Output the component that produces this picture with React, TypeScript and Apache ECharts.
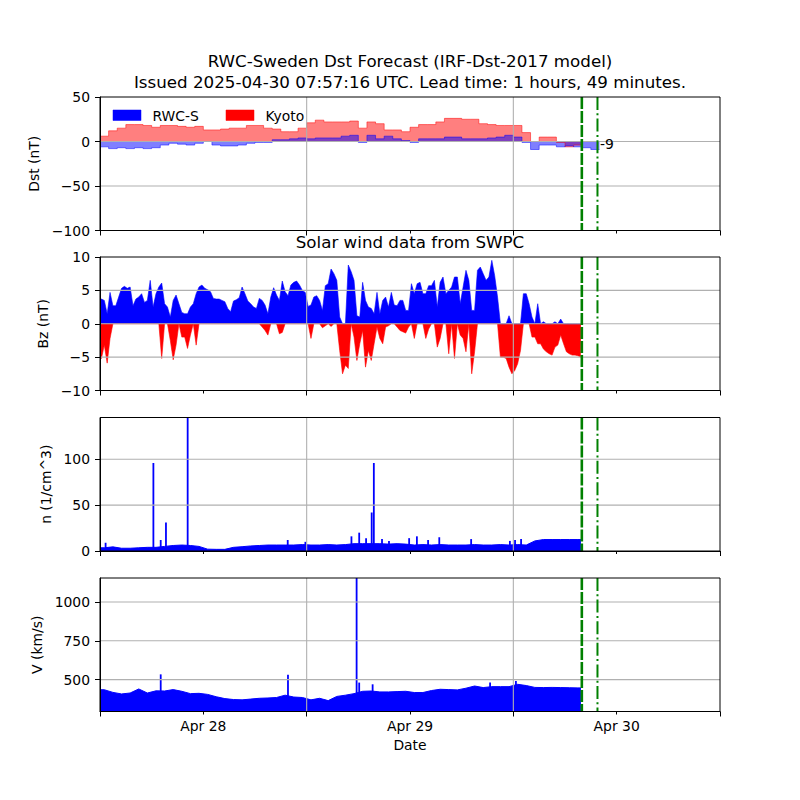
import React, { useEffect, useRef } from 'react';
import * as echarts from 'echarts';

const FONT = '"DejaVu Sans", sans-serif';
const titleLines = [
  'RWC-Sweden Dst Forecast (IRF-Dst-2017 model)',
  'Issued 2025-04-30 07:57:16 UTC. Lead time: 1 hours, 49 minutes.',
];
const subTitle = 'Solar wind data from SWPC';

// time in hours since 2025-04-28 00:00 UTC
const axisMaxHour = 72;
const dayBoundaryHours = [24, 48];
const dayLabelHours = [12, 36, 60];
const dayLabels = ['Apr 28', 'Apr 29', 'Apr 30'];
const issueHour = 48 + 7 + 57 / 60 + 16 / 3600;
const forecastHour = issueHour + 1 + 49 / 60;
const swEndHour = 55.85;

// Dst, hourly (nT)
const kyotoDst = [
  6, 12, 15, 19, 19, 18, 16, 18, 18, 17, 16, 17, 13, 13, 14, 15, 15, 18, 18, 15,
  14, 11, 11, 15, 21, 24, 22, 22, 22, 23, 15, 22, 20, 13, 13, 11, 16, 19, 19, 22,
  26, 26, 25, 25, 20, 19, 18, 18, 18, 10, 0, 5, 5, -1, -6, -4,
];
const rwcDst = [
  -6, -8, -7, -8, -7, -8, -7, -4, -2, -3, -4, -2, 0, -4, -5, -5, -4, -2, -1, -1,
  2, 2, 3, 4, 3, 4, 4, 4, 6, 7, -1, 7, 3, 6, 3, 1, -1, 3, 3, 3,
  5, 5, 3, 3, 3, 4, 5, 7, 5, -1, -9, -4, -4, -6, -5, -6, -7, -9,
];

// Bz, 20-minute bins: max positive / min negative (nT)
const bzPos = [
  3.7, 3.5, 1.5, 4.7, 2.7, 2.7, 4, 5.3, 5.6, 5.3,
  5.5, 2.7, 3.7, 4, 4.5, 3.2, 3.5, 6.5, 2.5, 4.5,
  5.5, 6.1, 3, 2.5, 1, 3.5, 4.3, 3, 1.7, 1.5,
  1.5, 2.5, 3, 4.5, 5.5, 5.8, 5.3, 5.1, 4.8, 3.8,
  3.7, 3.7, 3.5, 3.3, 2.3, 1.8, 3.4, 3.6, 3.9, 5.5,
  4.5, 3.4, 3, 2.5, 2.3, 3.8, 3.5, 2.8, 1.5, 4,
  5.4, 4.3, 3.5, 6.4, 4.8, 4.2, 5.8, 6.2, 6.4, 5.8,
  5, 4.7, 2.6, 2.8, 4, 4.2, 3.5, 2, 5.7, 6,
  8.2, 7.5, 6.5, 1, 0, 0, 8.8, 7.8, 6.5, 1.2,
  1, 6.2, 3.5, 2.5, 2.3, 1.5, 4.7, 1.5, 3.5, 4,
  2.5, 4.7, 2.8, 2.7, 3.5, 3.5, 2, 2, 6, 4.5,
  6, 6.2, 4.5, 4.5, 5.7, 5.7, 6.5, 2.5, 6.2, 7,
  4.5, 5, 5.5, 7, 7, 3, 5.5, 8, 6.5, 2,
  2, 8, 8.5, 7.5, 6.5, 7, 9.5, 7.2, 4, 0,
  0, 0, 1.2, 0, 0, 0, 0, 4.5, 4.5, 3,
  1, 0, 3, 0, 0.3, 0, 0, 0, 0.3, 0,
  0.7, 0, 0, 0, 0, 0, 0, 0,
];
const bzNeg = [
  -5.2, -3.2, -5.9, -2.2, 0, 0, 0, 0, 0, 0,
  0, 0, 0, 0, 0, 0, 0, 0, 0, 0,
  0, -5.2, 0, 0, -2.5, -5.4, -3.2, 0, -2, -2,
  -3.7, -1.7, 0, -3.2, 0, 0, 0, 0, 0, 0,
  0, 0, 0, 0, 0, 0, 0, 0, 0, 0,
  0, 0, 0, 0, 0, 0, -0.5, -1, -1.7, 0,
  0, 0, -1.5, -1.3, 0, 0, 0, 0, 0, 0,
  0, 0, 0, -2.2, 0, 0, 0, -0.6, -0.3, 0,
  -0.4, 0, 0, -4, -7.5, -6.2, -6.7, 0, -2, -5.5,
  -3, -1, -6.5, -4, -5.5, -3, -0.5, -2.2, -3, -0.5,
  -0.3, 0, 0, -0.5, -1, -1.2, -1.4, -0.5, 0, -2.2,
  0, 0, 0, -2.2, -0.8, 0, 0, -3.5, -2.2, 0,
  0, -4.5, 0, -5.2, 0, -1.7, -2.2, -4.2, 0, -7.5,
  -4.2, 0, 0, 0, 0, 0, 0, 0, 0, -5,
  -5, -5.2, -6.5, -7.5, -7, -6, -4, 0, 0, 0,
  -2, -2, -3, -3, -3.8, -4.2, -4.5, -4.7, -3.5, -3.2,
  -1.7, -3, -4.2, -4.5, -4.7, -4.7, -4.8, -5,
];

// density (1/cm^3): hourly background and short spikes [hour, value]
const nHourly = [
  3.5, 4.5, 3, 3, 3.5, 4, 4, 5, 6, 6.5, 6, 5, 2, 1.8, 1.8, 4, 4.7, 5.5, 6, 6.5,
  6.5, 6.5, 6.5, 7, 6.5, 6.5, 7, 6.5, 7, 8, 8, 8, 8, 7.5, 8, 7.5, 6.5, 7, 6.5, 7,
  6.5, 6.5, 6.5, 7, 6.5, 6.5, 7, 6.5, 7, 6.5, 11, 12.5, 12.5, 12.5, 12.5, 12.5,
];
const nSpikes = [
  [0.65, 9], [6.2, 96], [7.05, 12], [7.66, 31], [10.18, 145.6], [21.8, 12], [23.85, 10],
  [29.2, 16], [30.1, 20], [30.9, 14], [31.55, 42], [31.8, 96], [32.75, 13], [33.56, 11],
  [35.9, 14], [36.8, 16], [38.1, 12], [39.4, 15], [43.1, 13], [47.6, 11], [48.2, 12], [48.9, 13],
];

// speed (km/s): hourly background and short spikes [hour, value]
const vHourly = [
  435, 418, 408, 414, 440, 414, 428, 427, 436, 425, 410, 412, 405, 390, 378, 372, 370, 375, 380, 382,
  385, 400, 388, 385, 370, 380, 365, 392, 400, 410, 425, 427, 421, 421, 423, 425, 417, 417, 430, 438,
  436, 434, 445, 459, 449, 455, 455, 455, 470, 462, 450, 449, 450, 449, 448, 447,
];
const vSpikes = [
  [7.05, 534], [21.83, 532], [29.8, 1154], [30.1, 481], [31.66, 470], [45.3, 481], [48.3, 491],
];

const dstRange = [-100, 50];
const bzRange = [-10, 10];
const nRange = [0, 145.6];
const vRange = [295, 1154];
const dstTicks = [-100, -50, 0, 50];
const bzTicks = [-10, -5, 0, 5, 10];
const nTicks = [0, 50, 100];
const vTicks = [500, 750, 1000];

const legendItems = [
  { name: 'RWC-S', color: '#0000ff', edge: 'rgba(0,0,255,0.5)' },
  { name: 'Kyoto', color: '#ff0000', edge: 'rgba(255,0,0,0.5)' },
];

function stepPoints(vals: number[]) {
  const pts = vals.map((v, i) => [i, v]);
  pts.push([vals.length, vals[vals.length - 1]]);
  return pts;
}
function centerPoints(vals: number[], binHours: number, endHour: number) {
  const pts: number[][] = [[0, vals[0]]];
  vals.forEach((v, i) => pts.push([i * binHours + binHours / 2, v]));
  pts.push([endHour, vals[vals.length - 1]]);
  return pts;
}

const TICK_FS = 13.9;
const txt = { fontFamily: FONT, fontSize: TICK_FS, color: '#000' };

export default function App() {
  const ref = useRef<HTMLDivElement>(null);
  useEffect(() => {
    if (!ref.current) return;
    const chart = echarts.init(ref.current, null, { renderer: 'svg' });

    const grids = [97, 257, 417.5, 578].map((top) => ({
      left: 100, top, width: 620, height: 133.5, show: true, z: 10,
      borderColor: '#000', borderWidth: 1, backgroundColor: 'transparent',
    }));

    const xAxes: any[] = grids.map((_, i) => ({
      type: 'value', gridIndex: i, position: 'bottom', min: 0, max: axisMaxHour, interval: 24, z: 10,
      axisLine: { show: true, onZero: false, lineStyle: { color: '#000', width: 1 } },
      axisTick: { show: true, length: 5, lineStyle: { color: '#000', width: 1 } },
      minorTick: { show: true, splitNumber: 2, length: 3, lineStyle: { color: '#000', width: 1 } },
      axisLabel: { show: false },
      splitLine: { show: false },
      minorSplitLine: { show: false },
    }));
    xAxes.push({
      type: 'value', gridIndex: 3, position: 'bottom', min: 0, max: axisMaxHour, interval: 12,
      axisLine: { show: false, onZero: false }, axisTick: { show: false }, splitLine: { show: false },
      axisLabel: {
        show: true, margin: 7.5, ...txt,
        formatter: (v: number) => {
          const k = dayLabelHours.indexOf(v);
          return k >= 0 ? dayLabels[k] : '';
        },
      },
      name: 'Date', nameLocation: 'middle', nameGap: 26, nameTextStyle: { ...txt },
    });

    const yDefs = [
      { r: dstRange, ticks: dstTicks, name: 'Dst (nT)', gap: 53 },
      { r: bzRange, ticks: bzTicks, name: 'Bz (nT)', gap: 45 },
      { r: nRange, ticks: nTicks, name: 'n (1/cm^3)', gap: 41 },
      { r: vRange, ticks: vTicks, name: 'V (km/s)', gap: 51 },
    ];
    const yAxes = yDefs.map((d, i) => ({
      type: 'value', gridIndex: i, position: 'left', min: d.r[0], max: d.r[1], z: 10,
      axisLine: { show: true, onZero: false, lineStyle: { color: '#000', width: 1 } },
      axisTick: { show: true, length: 5, customValues: d.ticks, lineStyle: { color: '#000', width: 1 } },
      axisLabel: {
        show: true, customValues: d.ticks, margin: 10, ...txt,
        formatter: (v: number) => String(v).replace('-', '\u2212'),
      },
      splitLine: { show: false },
      name: d.name, nameLocation: 'middle', nameGap: d.gap, nameRotate: 90,
      nameTextStyle: { ...txt },
    }));

    const series: any[] = [];

    // Dst bars (step fills)
    series.push({
      type: 'line', name: 'Kyoto', xAxisIndex: 0, yAxisIndex: 0, data: stepPoints(kyotoDst),
      step: 'end', symbol: 'none', silent: true, z: 2,
      lineStyle: { color: 'rgba(255,0,0,0.5)', width: 1 },
      areaStyle: { color: 'rgba(255,0,0,0.5)', origin: 'auto', opacity: 1 },
    });
    series.push({
      type: 'line', name: 'RWC-S', xAxisIndex: 0, yAxisIndex: 0, data: stepPoints(rwcDst),
      step: 'end', symbol: 'none', silent: true, z: 2,
      lineStyle: { color: 'rgba(0,0,255,0.5)', width: 1 },
      areaStyle: { color: 'rgba(0,0,255,0.5)', origin: 'auto', opacity: 1 },
    });
    // Dst last value label
    series.push({
      type: 'custom', xAxisIndex: 0, yAxisIndex: 0, silent: true, z: 6,
      data: [[rwcDst.length, rwcDst[rwcDst.length - 1]]],
      renderItem: (params: any, api: any) => {
        const p = api.coord([api.value(0), api.value(1)]);
        return {
          type: 'text', x: p[0] + 0.5, y: p[1] - 5.5,
          style: { text: String(api.value(1)), fill: '#000', font: `${TICK_FS}px ${FONT}`, align: 'left', verticalAlign: 'middle' },
        };
      },
    });

    // Bz
    series.push({
      type: 'line', xAxisIndex: 1, yAxisIndex: 1, data: centerPoints(bzPos, 1 / 3, swEndHour),
      symbol: 'none', silent: true, z: 2,
      lineStyle: { color: '#0000ff', width: 0.6 },
      areaStyle: { color: '#0000ff', origin: 'auto', opacity: 1 },
    });
    series.push({
      type: 'line', xAxisIndex: 1, yAxisIndex: 1, data: centerPoints(bzNeg, 1 / 3, swEndHour),
      symbol: 'none', silent: true, z: 2,
      lineStyle: { color: '#ff0000', width: 0.6 },
      areaStyle: { color: '#ff0000', origin: 'auto', opacity: 1 },
    });

    // n and V: background + spikes
    const bgAndSpikes = (gi: number, hourly: number[], spikes: number[][], base: number) => {
      series.push({
        type: 'line', xAxisIndex: gi, yAxisIndex: gi, data: centerPoints(hourly, 1, swEndHour),
        symbol: 'none', silent: true, z: 2,
        lineStyle: { color: '#0000ff', width: 1 },
        areaStyle: { color: '#0000ff', origin: 'start', opacity: 1 },
      });
      series.push({
        type: 'custom', xAxisIndex: gi, yAxisIndex: gi, silent: true, z: 2,
        data: spikes,
        renderItem: (params: any, api: any) => {
          const top = api.coord([api.value(0), api.value(1)]);
          const bot = api.coord([api.value(0), base]);
          return {
            type: 'rect',
            shape: { x: top[0] - 0.9, y: top[1], width: 1.8, height: bot[1] - top[1] },
            style: { fill: '#0000ff' },
          };
        },
      });
    };
    bgAndSpikes(2, nHourly, nSpikes, nRange[0]);
    bgAndSpikes(3, vHourly, vSpikes, vRange[0]);

    // grid lines (drawn above fills, like matplotlib)
    const ranges = [dstRange, bzRange, nRange, vRange];
    const tickSets = [dstTicks, bzTicks, nTicks, vTicks];
    ranges.forEach((r, gi) => {
      const inner = tickSets[gi].filter((v) => v > r[0] && v < r[1]);
      series.push({
        type: 'custom', xAxisIndex: gi, yAxisIndex: gi, silent: true, z: 4,
        data: inner.map((v) => [0, v]),
        renderItem: (params: any, api: any) => {
          const cs = params.coordSys;
          const y = api.coord([0, api.value(1)])[1];
          return { type: 'line', shape: { x1: cs.x, y1: y, x2: cs.x + cs.width, y2: y }, style: { stroke: '#b0b0b0', lineWidth: 1.1 } };
        },
      });
      series.push({
        type: 'custom', xAxisIndex: gi, yAxisIndex: gi, silent: true, z: 4,
        data: dayBoundaryHours.map((h) => [h, r[0]]),
        renderItem: (params: any, api: any) => {
          const cs = params.coordSys;
          const x = api.coord([api.value(0), r[0]])[0];
          return { type: 'line', shape: { x1: x, y1: cs.y, x2: x, y2: cs.y + cs.height }, style: { stroke: '#b0b0b0', lineWidth: 1.1 } };
        },
      });
      // issue time and forecast horizon
      series.push({
        type: 'custom', xAxisIndex: gi, yAxisIndex: gi, silent: true, z: 8,
        data: [[issueHour, r[0]], [forecastHour, r[0]]],
        renderItem: (params: any, api: any) => {
          const cs = params.coordSys;
          const x = api.coord([api.value(0), r[0]])[0];
          const issue = params.dataIndex === 0;
          return {
            type: 'line', shape: { x1: x, y1: cs.y, x2: x, y2: cs.y + cs.height },
            style: {
              stroke: '#008000', lineWidth: issue ? 2.6 : 2,
              lineDash: issue ? [12, 2] : [13, 3.3, 2, 3.3],
            },
          };
        },
      });
    });

    const graphic: any[] = [
      { type: 'text', x: 410, y: 61, style: { text: titleLines[0], font: `16.7px ${FONT}`, fill: '#000', align: 'center', verticalAlign: 'middle' } },
      { type: 'text', x: 410, y: 82, style: { text: titleLines[1], font: `16.7px ${FONT}`, fill: '#000', align: 'center', verticalAlign: 'middle' } },
      { type: 'text', x: 410, y: 242, style: { text: subTitle, font: `16.7px ${FONT}`, fill: '#000', align: 'center', verticalAlign: 'middle' } },
    ];
    const legendX = [113, 226];
    legendItems.forEach((it, i) => {
      graphic.push({ type: 'rect', shape: { x: legendX[i], y: 110, width: 28, height: 10.5 }, style: { fill: it.color, stroke: it.edge, lineWidth: 1 }, z: 20 });
      graphic.push({ type: 'text', x: legendX[i] + 39.5, y: 115.5, style: { text: it.name, font: `${TICK_FS}px ${FONT}`, fill: '#000', align: 'left', verticalAlign: 'middle' }, z: 20 });
    });

    chart.setOption({
      animation: false,
      backgroundColor: '#fff',
      grid: grids,
      xAxis: xAxes,
      yAxis: yAxes,
      series,
      graphic,
    });
    return () => chart.dispose();
  }, []);
  return <div ref={ref} style={{ position: 'fixed', left: 0, top: 0, width: 800, height: 800 }} />;
}
